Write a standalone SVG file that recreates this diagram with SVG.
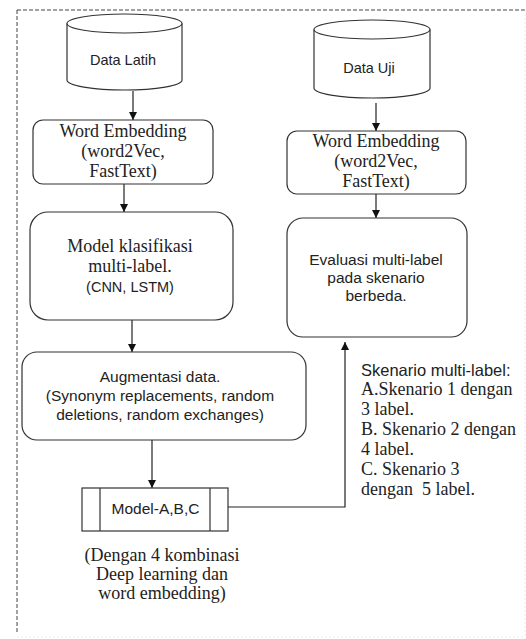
<svg xmlns="http://www.w3.org/2000/svg" width="526" height="639" viewBox="0 0 526 639">
<defs>
<marker id="ah" viewBox="0 0 10 10" refX="10" refY="5" markerWidth="8" markerHeight="8" markerUnits="userSpaceOnUse" orient="auto">
<path d="M0,0 L10,5 L0,10 Z" fill="#111"/>
</marker>
<style>
.box{fill:#fff;stroke:#333;stroke-width:1.2}
.serif{font-family:"Liberation Serif","Times New Roman",serif;font-size:18px;fill:#222;text-anchor:middle}
.sans{font-family:"Liberation Sans",Arial,sans-serif;fill:#222;text-anchor:middle}
.left{text-anchor:start}
.conn{fill:none;stroke:#222;stroke-width:1.2;marker-end:url(#ah)}
.frame{stroke:#444;stroke-width:1;stroke-dasharray:4 2;fill:none}
.faint{stroke:#ececec;stroke-width:1;stroke-dasharray:2 2;fill:none}
</style>
</defs>
<rect width="526" height="639" fill="#fff"/>
<g id="frame">
<path class="frame" d="M17,10 H526 M17,10 V632"/>
<path class="faint" d="M525,10 V639 M17,637 H525"/>
</g>
<g id="connectors">
<path class="conn" d="M133,91 V120"/>
<path class="conn" d="M124,184 V212"/>
<path class="conn" d="M132,320 V352"/>
<path class="conn" d="M152,440 V488"/>
<path class="conn" d="M376,103 V131"/>
<path class="conn" d="M376,194 V218"/>
<path class="conn" d="M228,507 H345 V342"/>
</g>
<g id="data-latih">
<path class="box" d="M67,23.5 V80 A57.5,10 0 0 0 182,80 V23.5"/>
<ellipse class="box" cx="124.5" cy="23.5" rx="57.5" ry="9.5"/>
<text class="sans" x="123" y="65" font-size="14.5">Data Latih</text>
</g>
<g id="data-uji">
<path class="box" d="M314,29.5 V88 A58,10 0 0 0 430,88 V29.5"/>
<ellipse class="box" cx="372" cy="29.5" rx="58" ry="9.5"/>
<text class="sans" x="369" y="73" font-size="14.5">Data Uji</text>
</g>
<g id="word-embedding-1">
<rect class="box" x="33" y="120" width="180" height="64" rx="10"/>
<text class="serif" x="123" y="137">Word Embedding</text>
<text class="serif" x="123" y="157">(word2Vec,</text>
<text class="serif" x="123" y="177">FastText)</text>
</g>
<g id="word-embedding-2">
<rect class="box" x="287" y="131" width="179" height="63" rx="10"/>
<text class="serif" x="376" y="147">Word Embedding</text>
<text class="serif" x="376" y="167">(word2Vec,</text>
<text class="serif" x="376" y="187">FastText)</text>
</g>
<g id="model-klasifikasi">
<rect class="box" x="30" y="212" width="203" height="108" rx="18"/>
<text class="serif" x="130" y="252">Model klasifikasi</text>
<text class="serif" x="130" y="272">multi-label.</text>
<text class="sans" x="130" y="292" font-size="14.5">(CNN, LSTM)</text>
</g>
<g id="evaluasi">
<rect class="box" x="287" y="218" width="180" height="119" rx="16"/>
<text class="sans" x="376" y="265" font-size="15.5">Evaluasi multi-label</text>
<text class="sans" x="376" y="283" font-size="15.5">pada skenario</text>
<text class="sans" x="376" y="301" font-size="15.5">berbeda.</text>
</g>
<g id="augmentasi">
<rect class="box" x="22" y="352" width="284" height="88" rx="15"/>
<text class="sans" x="160" y="382" font-size="15.5">Augmentasi data.</text>
<text class="sans" x="160" y="401" font-size="15.5">(Synonym replacements, random</text>
<text class="sans" x="160" y="420" font-size="15.5">deletions, random exchanges)</text>
</g>
<g id="model-abc">
<rect class="box" x="82" y="488" width="146" height="43"/>
<path class="box" d="M100,488 V531 M210,488 V531"/>
<text class="sans" x="155.5" y="514" font-size="15.5">Model-A,B,C</text>
</g>
<g id="caption">
<text class="serif" x="162" y="561">(Dengan 4 kombinasi</text>
<text class="serif" x="162" y="580">Deep learning dan</text>
<text class="serif" x="162" y="599">word embedding)</text>
</g>
<g id="skenario">
<text class="sans left" x="361" y="376" font-size="16.5">Skenario multi-label:</text>
<text class="serif left" x="361" y="395">A.Skenario 1 dengan</text>
<text class="serif left" x="361" y="415">3 label.</text>
<text class="serif left" x="361" y="435">B. Skenario 2 dengan</text>
<text class="serif left" x="361" y="455">4 label.</text>
<text class="serif left" x="361" y="475">C. Skenario 3</text>
<text class="serif left" x="361" y="495" xml:space="preserve">dengan  5 label.</text>
</g>
</svg>
